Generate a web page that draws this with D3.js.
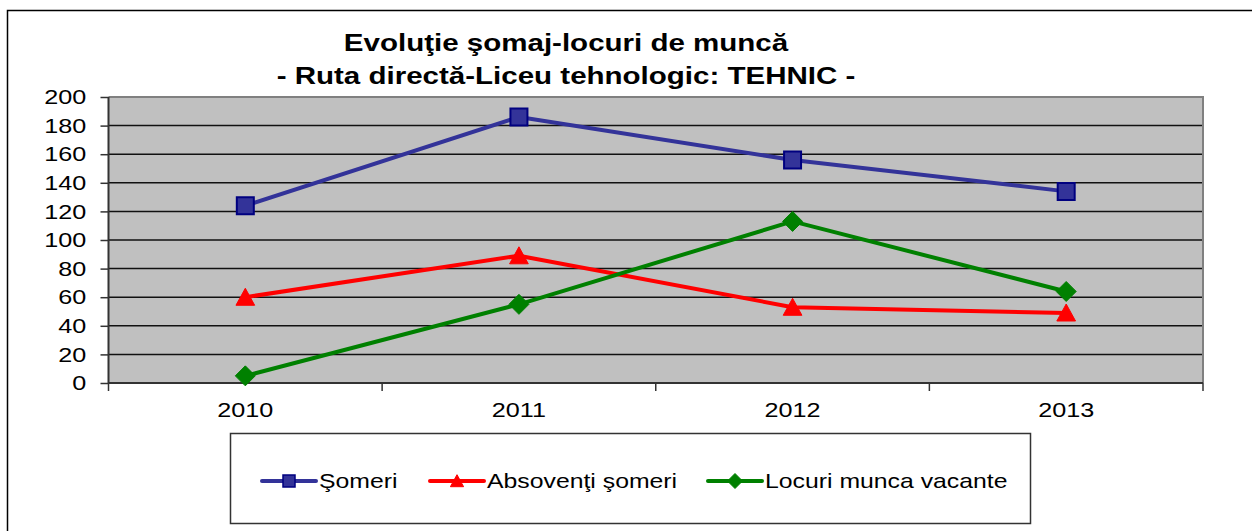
<!DOCTYPE html>
<html>
<head>
<meta charset="utf-8">
<script src="https://cdn.jsdelivr.net/npm/d3@7"></script>
<style>
  html, body { margin: 0; padding: 0; background: #fff; }
  svg { display: block; font-family: "Liberation Sans", Arial, sans-serif; }
</style>
</head>
<body>
<svg id="chart" width="1252" height="531"></svg>
<script>
// Chart data
const years = ["2010", "2011", "2012", "2013"];
const someri = [124, 186, 156, 134];
const absolventiSomeri = [60, 89, 53, 49];
const locuriVacante = [5, 55, 113, 64];
const yTicks = [0, 20, 40, 60, 80, 100, 120, 140, 160, 180, 200];
const titleLines = ["Evoluţie şomaj-locuri de muncă", "- Ruta directă-Liceu tehnologic: TEHNIC -"];
const seriesNames = ["Şomeri", "Absovenţi şomeri", "Locuri munca vacante"];

const series = [
  { name: seriesNames[0], values: someri, stroke: "#333399", fill: "#333399", edge: "#000080", shape: "square" },
  { name: seriesNames[1], values: absolventiSomeri, stroke: "#FF0000", fill: "#FF0000", edge: "#FF0000", shape: "triangle" },
  { name: seriesNames[2], values: locuriVacante, stroke: "#008000", fill: "#008000", edge: "#008000", shape: "diamond" }
];

// Text in this chart is set in a horizontally widened face
const WIDE = 1.2;
const FONT = "Liberation Sans, Arial, sans-serif";

const svg = d3.select("#chart");

// Outer chart frame
svg.append("path")
  .attr("d", "M7.5,540 V10.5 H1260")
  .attr("fill", "none").attr("stroke", "#000").attr("stroke-width", 1.5);

const plot = { left: 108.5, right: 1203, top: 97, bottom: 383 };

const x = d3.scaleBand().domain(years).range([plot.left, plot.right]).padding(0);
const y = d3.scaleLinear().domain([0, 200]).range([plot.bottom, plot.top]);

// Plot background
svg.append("rect")
  .attr("x", plot.left).attr("y", plot.top)
  .attr("width", plot.right - plot.left).attr("height", plot.bottom - plot.top)
  .attr("fill", "#C0C0C0");

// Horizontal gridlines
svg.append("g").selectAll("line")
  .data(yTicks.filter(d => d > 0 && d < 200))
  .join("line")
  .attr("x1", plot.left).attr("x2", plot.right)
  .attr("y1", d => y(d)).attr("y2", d => y(d))
  .attr("stroke", "#111").attr("stroke-width", 1.5);

// Plot area border (top and right)
svg.append("path")
  .attr("d", `M${plot.left},${plot.top} H${plot.right} V${plot.bottom}`)
  .attr("fill", "none").attr("stroke", "#808080").attr("stroke-width", 2);

// Y axis
const yAxis = svg.append("g")
  .attr("transform", `translate(${plot.left},0)`)
  .call(d3.axisLeft(y).tickValues(yTicks).tickSize(8).tickPadding(10.5).tickFormat(d3.format("d")));
yAxis.select(".domain").attr("stroke", "#333").attr("stroke-width", 2).attr("d", `M0,${plot.top} V${plot.bottom}`);
yAxis.selectAll(".tick line").attr("stroke", "#333").attr("stroke-width", 1.5);
yAxis.selectAll(".tick text")
  .attr("font-size", 21).attr("fill", "#000").attr("font-family", FONT)
  .attr("transform", `scale(${WIDE},1)`);

// X axis: labels centred in each band, ticks on band boundaries
const xAxis = svg.append("g")
  .attr("transform", `translate(0,${plot.bottom})`)
  .call(d3.axisBottom(x).tickSize(0).tickPadding(19));
xAxis.select(".domain").attr("stroke", "#333").attr("stroke-width", 2).attr("d", `M${plot.left},0 H${plot.right}`);
xAxis.selectAll(".tick text")
  .attr("font-size", 21).attr("fill", "#000").attr("font-family", FONT)
  .attr("transform", `scale(${WIDE},1)`);

const boundaries = years.map(d => x(d)).concat([x(years[years.length - 1]) + x.bandwidth()]);
xAxis.append("g").selectAll("line")
  .data(boundaries)
  .join("line")
  .attr("x1", d => d).attr("x2", d => d)
  .attr("y1", 0).attr("y2", 8)
  .attr("stroke", "#333").attr("stroke-width", 1.5);

// Marker shapes
function markerPath(shape, s) {
  if (shape === "square") {
    const h = s / 2;
    return `M${-h},${-h} H${h} V${h} H${-h} Z`;
  }
  if (shape === "triangle") {
    const h = s / 2;
    return `M0,${-h * 1.05} L${h * 1.1},${h * 0.95} L${-h * 1.1},${h * 0.95} Z`;
  }
  const h = s / 2 + 1.5;
  return `M0,${-h} L${h},0 L0,${h} L${-h},0 Z`;
}

const cx = d => x(d) + x.bandwidth() / 2;
const line = d3.line().x((v, i) => cx(years[i])).y(v => y(v));

series.forEach(s => {
  const g = svg.append("g");
  g.append("path")
    .attr("d", line(s.values))
    .attr("fill", "none").attr("stroke", s.stroke).attr("stroke-width", 4)
    .attr("stroke-linejoin", "round");
  g.selectAll("path.marker")
    .data(s.values)
    .join("path")
    .attr("class", "marker")
    .attr("transform", (v, i) => `translate(${cx(years[i])},${y(v)})`)
    .attr("d", markerPath(s.shape, 17))
    .attr("fill", s.fill)
    .attr("stroke", s.edge).attr("stroke-width", s.shape === "square" ? 2 : 1);
});

// Title
const titleY = [51, 84];
svg.append("g").selectAll("text")
  .data(titleLines)
  .join("text")
  .attr("transform", (d, i) => `translate(566,${titleY[i]}) scale(1.23,1)`)
  .attr("text-anchor", "middle")
  .attr("font-size", 24).attr("font-weight", "bold").attr("fill", "#000")
  .text(d => d);

// Legend
const legend = svg.append("g");
legend.append("rect")
  .attr("x", 230.5).attr("y", 433.5).attr("width", 800).attr("height", 90)
  .attr("fill", "#fff").attr("stroke", "#333").attr("stroke-width", 1.5);

const legendX = [262, 430, 708];
series.forEach((s, i) => {
  const g = legend.append("g").attr("transform", `translate(${legendX[i]},481)`);
  g.append("line")
    .attr("x1", 0).attr("x2", 54).attr("y1", 0).attr("y2", 0)
    .attr("stroke", s.stroke).attr("stroke-width", 4).attr("stroke-linecap", "round");
  g.append("path")
    .attr("transform", "translate(27,0)")
    .attr("d", markerPath(s.shape, 12))
    .attr("fill", s.fill).attr("stroke", s.edge).attr("stroke-width", s.shape === "square" ? 1.5 : 1);
  g.append("text")
    .attr("transform", `translate(57,0) scale(1.24,1)`)
    .attr("dy", "0.35em")
    .attr("font-size", 20).attr("fill", "#000").attr("font-family", FONT)
    .text(s.name);
});
</script>
</body>
</html>
